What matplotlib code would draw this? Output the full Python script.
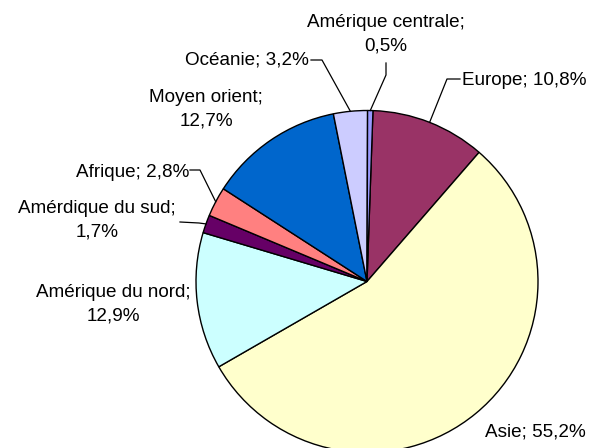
import numpy as np
import matplotlib.pyplot as plt

plt.rcParams['font.family'] = ['Liberation Sans', 'DejaVu Sans']

# data, clockwise from the top
regions = ['Europe', 'Asie', 'Amérique du nord', 'Amérdique du sud', 'Afrique',
           'Moyen orient', 'Océanie', 'Amérique centrale']
shares = [10.8, 55.2, 12.9, 1.7, 2.8, 12.7, 3.2, 0.5]
colors = ['#993366', '#FFFFCC', '#CCFFFF', '#660066', '#FF8080',
          '#0066CC', '#CCCCFF', '#9999FF']

W, H = 591, 448
cx, cy, R = 367, H - 281.5, 171

fig = plt.figure(figsize=(W / 100, H / 100), dpi=100)
ax = fig.add_axes([0, 0, 1, 1])
wedges, _ = ax.pie(shares, colors=colors, startangle=88, counterclock=False,
                   center=(cx, cy), radius=R,
                   wedgeprops=dict(edgecolor='black', linewidth=1))
ax.set_xlim(0, W)
ax.set_ylim(0, H)
ax.set_aspect('equal')
ax.axis('off')

# label layout in image pixels (y from top): x, y, ha, two lines, leader elbows
layout = [
    (462, 80, 'left', False, [(460, 79), (447, 79)]),
    (485, 432, 'left', False, []),
    (113, 304.5, 'center', True, []),
    (97, 220.5, 'center', True, [(180, 222), (199, 223)]),
    (189, 172, 'right', False, [(190, 170), (200, 170)]),
    (206, 109.5, 'center', True, []),
    (309, 60, 'right', False, [(311, 60), (322, 60)]),
    (386, 34.5, 'center', True, [(386, 63), (386, 75)]),
]

for w, name, v, (x, y, ha, two, elbows) in zip(wedges, regions, shares, layout):
    val = f"{v:.1f}".replace('.', ',') + '%'
    sep = ';\n' if two else '; '
    ax.text(x, H - y, name + sep + val, ha=ha, va='center', fontsize=13.6,
            multialignment='center', linespacing=1.5, color='black')
    if elbows:
        mid = np.deg2rad((w.theta1 + w.theta2) / 2)
        px = [p[0] for p in elbows] + [cx + R * np.cos(mid)]
        py = [H - p[1] for p in elbows] + [cy + R * np.sin(mid)]
        ax.plot(px, py, color='black', lw=0.9)

fig.savefig('out.png', dpi=100)
